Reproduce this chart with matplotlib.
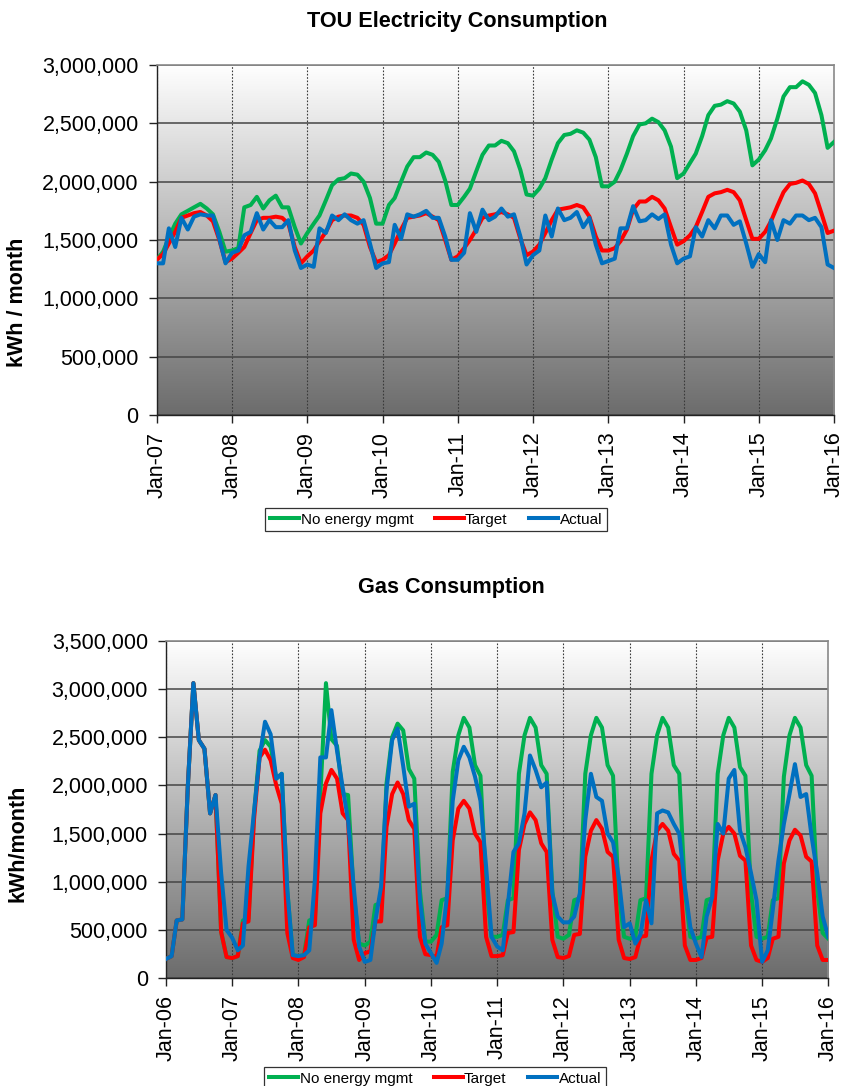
import numpy as np
import pandas as pd
import matplotlib
matplotlib.use("Agg")
import matplotlib.pyplot as plt
import matplotlib.dates as mdates
from matplotlib.colors import LinearSegmentedColormap
from matplotlib.ticker import FuncFormatter, MultipleLocator

plt.rcParams['font.family'] = ['Liberation Sans', 'DejaVu Sans']

# ---------------- DATA (thousands of kWh) ----------------
elec_start = "2007-01-01"
elec_no_mgmt = [
    1330, 1400, 1520, 1640, 1720, 1750, 1780, 1810, 1770, 1720, 1570, 1400,
    1410, 1430, 1780, 1800, 1870, 1770, 1840, 1880, 1780, 1780, 1610, 1470,
    1560, 1640, 1710, 1840, 1970, 2020, 2030, 2070, 2060, 2000, 1860, 1640,
    1640, 1800, 1860, 2000, 2130, 2210, 2210, 2250, 2230, 2170, 2010, 1800,
    1800, 1870, 1940, 2090, 2230, 2310, 2310, 2350, 2330, 2260, 2100, 1890,
    1880, 1940, 2030, 2190, 2330, 2400, 2410, 2440, 2420, 2360, 2210, 1960,
    1960, 2000, 2100, 2240, 2390, 2490, 2500, 2540, 2510, 2440, 2300, 2030,
    2070, 2160, 2240, 2390, 2570, 2650, 2660, 2690, 2670, 2600, 2440, 2140,
    2190, 2270, 2370, 2540, 2730, 2810, 2810, 2860, 2830, 2760, 2570, 2290,
    2340]
elec_target = [
    1330, 1380, 1470, 1570, 1690, 1710, 1730, 1740, 1710, 1660, 1500, 1310,
    1340, 1390, 1440, 1560, 1670, 1690, 1690, 1700, 1690, 1640, 1440, 1300,
    1360, 1410, 1490, 1570, 1670, 1700, 1710, 1710, 1690, 1630, 1440, 1310,
    1330, 1370, 1470, 1590, 1690, 1700, 1710, 1730, 1700, 1670, 1500, 1330,
    1360, 1430, 1500, 1590, 1690, 1710, 1720, 1740, 1720, 1690, 1510, 1370,
    1400, 1460, 1560, 1670, 1760, 1770, 1780, 1800, 1780, 1700, 1530, 1410,
    1410, 1430, 1490, 1590, 1760, 1830, 1830, 1870, 1840, 1770, 1610, 1460,
    1490, 1540, 1610, 1740, 1870, 1900, 1910, 1930, 1910, 1840, 1670, 1510,
    1510, 1570, 1660, 1790, 1910, 1980, 1990, 2010, 1980, 1900, 1730, 1560,
    1580]
elec_actual = [
    1300, 1300, 1600, 1440, 1690, 1590, 1700, 1720, 1710, 1710, 1510, 1300,
    1390, 1410, 1540, 1570, 1730, 1590, 1670, 1610, 1610, 1670, 1410, 1260,
    1290, 1270, 1600, 1560, 1710, 1670, 1720, 1670, 1640, 1670, 1470, 1260,
    1300, 1310, 1630, 1510, 1720, 1700, 1720, 1750, 1690, 1690, 1530, 1330,
    1330, 1390, 1730, 1570, 1760, 1670, 1700, 1770, 1700, 1720, 1530, 1290,
    1370, 1410, 1710, 1530, 1770, 1670, 1690, 1740, 1610, 1690, 1460, 1300,
    1320, 1340, 1600, 1600, 1790, 1660, 1670, 1720, 1680, 1720, 1460, 1300,
    1340, 1360, 1610, 1530, 1670, 1600, 1710, 1710, 1630, 1660, 1470, 1270,
    1380, 1310, 1670, 1500, 1670, 1640, 1710, 1710, 1670, 1690, 1610, 1290,
    1260]

gas_start = "2006-01-01"
gas_no_mgmt = [
    200, 230, 600, 610, 1980, 3060, 2470, 2380, 1710, 1900, 480, 220,
    210, 230, 600, 620, 1700, 2360, 2470, 2400, 2070, 2120, 910, 240,
    230, 240, 600, 620, 1900, 3060, 2480, 2410, 1910, 1900, 880, 360,
    340, 380, 760, 780, 2020, 2500, 2640, 2570, 2170, 2070, 910, 380,
    380, 450, 810, 830, 2140, 2520, 2700, 2600, 2210, 2100, 950, 430,
    430, 450, 810, 830, 2120, 2520, 2700, 2600, 2210, 2120, 910, 430,
    410, 450, 810, 830, 2120, 2520, 2700, 2600, 2210, 2100, 880, 430,
    410, 430, 810, 830, 2120, 2520, 2700, 2600, 2210, 2120, 910, 430,
    410, 430, 810, 830, 2120, 2520, 2700, 2600, 2190, 2100, 880, 430,
    410, 430, 810, 830, 2090, 2520, 2700, 2600, 2210, 2100, 910, 470,
    410]
gas_target = [
    200, 230, 600, 610, 1980, 3060, 2470, 2380, 1710, 1900, 480, 220,
    210, 230, 570, 590, 1640, 2290, 2370, 2260, 2000, 1810, 470, 210,
    190, 220, 530, 550, 1710, 2020, 2160, 2070, 1710, 1640, 400, 190,
    260, 280, 590, 590, 1570, 1910, 2030, 1910, 1640, 1550, 430, 250,
    240, 220, 530, 550, 1430, 1760, 1840, 1760, 1500, 1410, 430, 230,
    230, 240, 470, 480, 1330, 1600, 1720, 1640, 1400, 1310, 400, 220,
    210, 230, 450, 460, 1260, 1530, 1640, 1550, 1310, 1260, 400, 210,
    200, 220, 430, 440, 1220, 1530, 1600, 1530, 1290, 1220, 340, 190,
    190, 210, 420, 430, 1220, 1500, 1570, 1500, 1270, 1220, 340, 190,
    170, 210, 410, 430, 1190, 1430, 1540, 1480, 1260, 1210, 340, 190,
    190]
gas_actual = [
    200, 230, 600, 610, 1980, 3060, 2470, 2380, 1710, 1900, 1090, 500,
    420, 290, 340, 1160, 1720, 2290, 2660, 2530, 2070, 2120, 910, 240,
    230, 240, 290, 1020, 2290, 2290, 2780, 2360, 1980, 1640, 950, 330,
    170, 190, 600, 950, 1950, 2470, 2590, 2200, 1780, 1810, 810, 360,
    260, 160, 360, 880, 1840, 2260, 2400, 2290, 2090, 1840, 1160, 430,
    330, 290, 760, 1310, 1400, 1710, 2310, 2160, 1980, 2030, 880, 640,
    580, 580, 640, 880, 1640, 2120, 1880, 1840, 1500, 1410, 1050, 530,
    570, 360, 450, 810, 570, 1710, 1740, 1720, 1600, 1500, 950, 530,
    360, 220, 640, 840, 1600, 1500, 2070, 2160, 1530, 1360, 1090, 810,
    170, 290, 710, 1220, 1600, 1910, 2220, 1880, 1910, 1470, 1090, 640,
    430]

series_labels = ["No energy mgmt", "Target", "Actual"]
series_colors = ["#00B050", "#FF0000", "#0070C0"]

# ---------------- FIGURE ----------------
W, H = 845, 1086
fig = plt.figure(figsize=(W / 100, H / 100), dpi=100)

cmap = LinearSegmentedColormap.from_list("bg", ["#6c6c6c", "#ffffff"])


def fx(px):
    return px / W


def fy(py):
    return 1 - py / H


def make_axes(left, top, right, bottom):
    pos = [fx(left), fy(bottom), fx(right) - fx(left), fy(top) - fy(bottom)]
    bg = fig.add_axes(pos, zorder=0)
    grad = np.linspace(1, 0, 256).reshape(-1, 1)
    bg.imshow(grad, cmap=cmap, aspect="auto", extent=[0, 1, 0, 1], vmin=0, vmax=1)
    bg.set_axis_off()
    ax = fig.add_axes(pos, zorder=1)
    ax.set_facecolor("none")
    return ax


def style_axes(ax, start, n, ymax, ystep):
    dates = pd.date_range(start, periods=n, freq="MS")
    ax.set_xlim(dates[0], dates[-1])
    ax.set_ylim(0, ymax)
    ax.yaxis.set_major_locator(MultipleLocator(ystep))
    ax.yaxis.set_major_formatter(FuncFormatter(lambda v, p: f"{v:,.0f}"))
    ax.xaxis.set_major_locator(mdates.YearLocator())
    ax.xaxis.set_major_formatter(mdates.DateFormatter("%b-%y"))
    ax.tick_params(axis="both", labelsize=15.5, direction="out", length=6,
                   width=1, color="#222222")
    ax.tick_params(axis="y", pad=7)
    ax.tick_params(axis="x", pad=6, labelrotation=90)
    ax.grid(axis="y", color="#454545", lw=1.1, ls="-", zorder=1)
    ax.grid(axis="x", color="#3a3a3a", lw=0.8, ls=(0, (1.5, 1.5)), zorder=1)
    ax.set_axisbelow(True)
    for s in ["top", "right"]:
        ax.spines[s].set_color("#8a8a8a")
        ax.spines[s].set_linewidth(1.2)
    for s in ["left", "bottom"]:
        ax.spines[s].set_color("#222222")
        ax.spines[s].set_linewidth(1.0)
    return dates


def draw(ax, dates, series):
    handles = []
    for vals, lab, col in zip(series, series_labels, series_colors):
        h, = ax.plot(dates, np.array(vals) * 1000, color=col, lw=2.9,
                     label=lab, solid_joinstyle="round", zorder=3)
        handles.append(h)
    return handles


legend_kw = dict(ncol=3, fontsize=11, frameon=True, fancybox=False,
                 edgecolor="#000000", handlelength=1.9, handletextpad=0.1,
                 columnspacing=1.4, borderpad=0.3, borderaxespad=0)

# ---- Top chart: electricity ----
ax1 = make_axes(156.7, 65, 834, 415)
d1 = style_axes(ax1, elec_start, len(elec_actual), 3000000, 500000)
h1 = draw(ax1, d1, [elec_no_mgmt, elec_target, elec_actual])
fig.text(fx(457), fy(22), "TOU Electricity Consumption", ha="center",
         va="center", fontsize=15.6, fontweight="bold")
fig.text(fx(18), fy(302), "kWh / month", rotation=90, ha="center",
         va="center", fontsize=15.5, fontweight="bold")
leg1 = fig.legend(handles=h1, loc="center",
                  bbox_to_anchor=(fx(436), fy(519.5)), **legend_kw)
leg1.get_frame().set_linewidth(0.9)

# ---- Bottom chart: gas ----
ax2 = make_axes(166, 640.7, 828.3, 978.3)
d2 = style_axes(ax2, gas_start, len(gas_actual), 3500000, 500000)
h2 = draw(ax2, d2, [gas_no_mgmt, gas_target, gas_actual])
fig.text(fx(451), fy(588), "Gas Consumption", ha="center", va="center",
         fontsize=15.6, fontweight="bold")
fig.text(fx(18), fy(843), "kWh/month", rotation=90, ha="center",
         va="center", fontsize=15.5, fontweight="bold")
leg2 = fig.legend(handles=h2, loc="upper center",
                  bbox_to_anchor=(fx(435), fy(1067)), **legend_kw)
leg2.get_frame().set_linewidth(0.9)

fig.savefig("out.png", dpi=100, facecolor="white")
